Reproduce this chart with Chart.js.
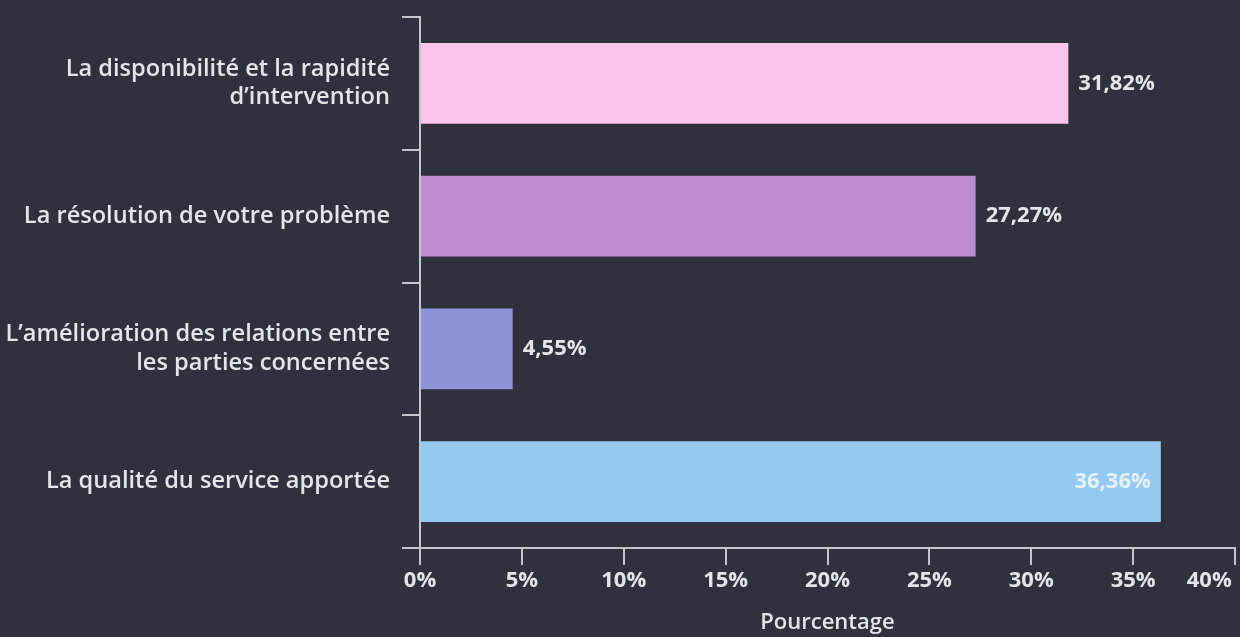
<!DOCTYPE html>
<html>
<head>
<meta charset="utf-8">
<script src="https://cdn.jsdelivr.net/npm/chart.js@4"></script>
<style>
  html, body { margin: 0; padding: 0; background: #30313e; }
  #wrap { width: 1240px; height: 637px; }
</style>
</head>
<body>
<div id="wrap"><canvas id="graphique" width="1240" height="637"></canvas></div>
<script>
// Données du graphique
var categories = [
  ['La disponibilité et la rapidité', 'd\u2019intervention'],
  'La résolution de votre problème',
  ['L\u2019amélioration des relations entre', 'les parties concernées'],
  'La qualité du service apportée'
];
var pourcentages = [31.82, 27.27, 4.55, 36.36];
var couleurs = ['#f8c4ea', '#c18bd3', '#8e92d6', '#96c9f0'];
var graduations = [0, 5, 10, 15, 20, 25, 30, 35, 40];

var couleurTexte = '#e4e4ea';
var couleurAxe = '#c4c4cc';

function formatPct(v) {
  return v.toFixed(2).replace('.', ',') + '%';
}

// Plugin maison pour les étiquettes de valeurs
var etiquettesBarres = {
  id: 'etiquettesBarres',
  afterDatasetsDraw: function (chart) {
    var ctx = chart.ctx;
    var meta = chart.getDatasetMeta(0);
    ctx.save();
    ctx.font = '700 22px "Open Sans"';
    ctx.textBaseline = 'middle';
    meta.data.forEach(function (bar, i) {
      var texte = formatPct(pourcentages[i]);
      var w = ctx.measureText(texte).width;
      if (bar.x + 10 + w > chart.chartArea.right) {
        // pas de place : dans la barre
        ctx.textAlign = 'right';
        ctx.fillStyle = 'rgba(255,255,255,0.75)';
        ctx.fillText(texte, bar.x - 10, bar.y);
      } else {
        ctx.textAlign = 'left';
        ctx.fillStyle = couleurTexte;
        ctx.fillText(texte, bar.x + 10, bar.y);
      }
    });
    ctx.restore();
  }
};

var ctx = document.getElementById('graphique').getContext('2d');
new Chart(ctx, {
  type: 'bar',
  data: {
    labels: categories,
    datasets: [{
      data: pourcentages,
      backgroundColor: couleurs,
      borderWidth: 0,
      barPercentage: 0.61,
      categoryPercentage: 1
    }]
  },
  options: {
    indexAxis: 'y',
    responsive: false,
    animation: false,
    devicePixelRatio: 1,
    layout: { padding: { top: 17, right: 5, left: 0, bottom: 0 } },
    plugins: {
      legend: { display: false },
      tooltip: { enabled: false }
    },
    scales: {
      x: {
        min: 0,
        max: 40,
        afterBuildTicks: function (scale) {
          scale.ticks = graduations.map(function (v) { return { value: v }; });
        },
        afterFit: function (scale) {
          scale.paddingLeft = 0;
          scale.paddingRight = 0;
          scale.height = 89;
        },
        border: { color: couleurAxe, width: 2 },
        grid: { drawOnChartArea: false, drawTicks: true, tickLength: 17, color: couleurAxe, lineWidth: 2 },
        ticks: {
          color: couleurTexte,
          padding: 3,
          maxRotation: 0,
          font: { family: 'Open Sans', size: 22, weight: '700' },
          callback: function (v) {
            // la dernière étiquette est décalée vers la gauche
            if (v === 40) return '40%\u00a0\u00a0\u00a0\u00a0\u00a0\u00a0\u00a0\u00a0\u00a0';
            return v + '%';
          }
        },
        title: {
          display: true,
          text: 'Pourcentage',
          color: couleurTexte,
          padding: { top: 0, bottom: 1 },
          font: { family: 'Open Sans', size: 22, weight: '600' }
        }
      },
      y: {
        afterFit: function (scale) {
          scale.width = 420;
          scale.paddingTop = 0;
          scale.paddingBottom = 0;
        },
        border: { color: couleurAxe, width: 2 },
        grid: { drawOnChartArea: false, drawTicks: true, tickLength: 18, color: couleurAxe, lineWidth: 2 },
        ticks: {
          color: couleurTexte,
          padding: 12,
          font: { family: 'Open Sans', size: 23.6, weight: '600', lineHeight: 1.22 }
        }
      }
    }
  },
  plugins: [etiquettesBarres]
});
</script>
</body>
</html>
